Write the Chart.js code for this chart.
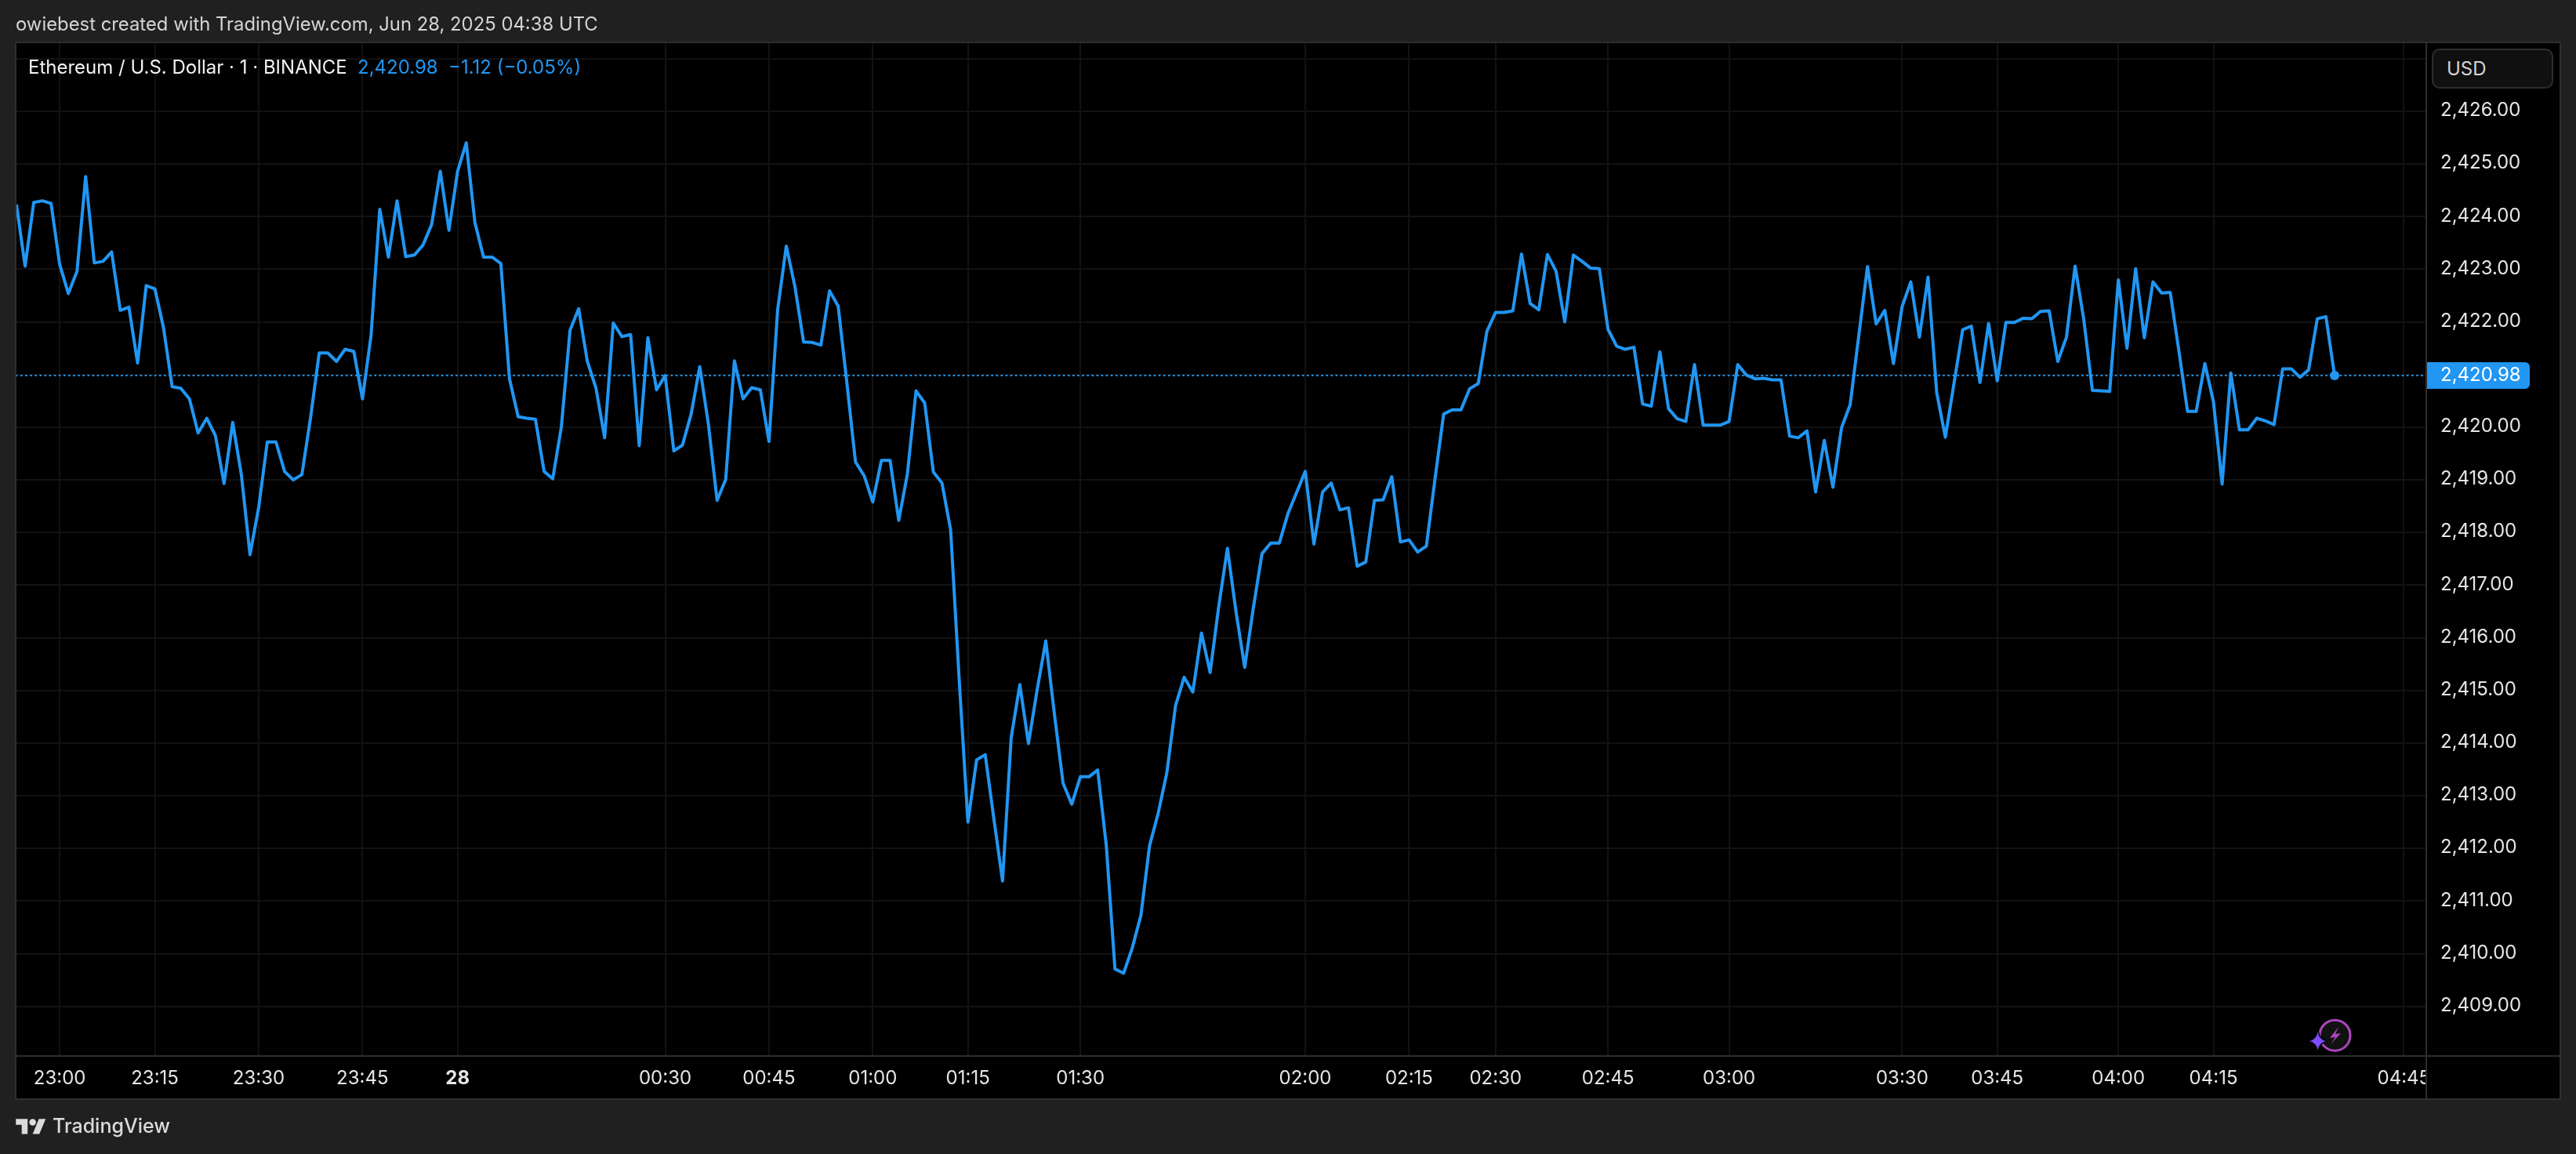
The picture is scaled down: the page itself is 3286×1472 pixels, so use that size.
<!DOCTYPE html>
<html><head><meta charset="utf-8">
<script src="https://cdn.jsdelivr.net/npm/chart.js@4"></script>
<style>
html,body{margin:0;padding:0;background:#202020;width:3286px;height:1472px;overflow:hidden;font-family:Inter,sans-serif}
canvas{position:absolute;left:0;top:0}
.t{position:absolute;white-space:nowrap;line-height:1}
</style></head><body>
<canvas id="c" width="3286" height="1472"></canvas>
<div class="t" style="left:20px;top:19px;font-size:23.85px;color:#d4d4d4">owiebest created with TradingView.com, Jun 28, 2025 04:38 UTC</div>
<div class="t" style="left:36px;top:74px;font-size:24px;color:#f2f2f2">Ethereum / U.S. Dollar · 1 · BINANCE</div>
<div class="t" style="left:456px;top:74px;font-size:24px;color:#2196f3">2,420.98</div>
<div class="t" style="left:572px;top:74px;font-size:24px;color:#2196f3">−1.12 (−0.05%)</div>
<div style="position:absolute;left:3102px;top:62px;width:155px;height:51px;box-sizing:border-box;background:#101010;border:2px solid #2e2e2e;border-radius:10px"></div>
<div class="t" style="left:3121px;top:76px;font-size:24px;color:#d4d4d4">USD</div>
<svg style="position:absolute;left:2936px;top:1296px" width="70" height="50" viewBox="0 0 70 50">
<circle cx="42.5" cy="24.7" r="19.5" fill="#111" stroke="#ab47bc" stroke-width="3"/>
<path d="M47 14 L36 28 L43 27 L37 36 L50 22 L43 23 Z" fill="#ab47bc"/>
<path d="M20.7 20 Q22 30 31 32 Q22 34 20.7 44 Q19 34 10 32 Q19 30 20.7 20 Z" fill="#7c4dff" stroke="#000" stroke-width="3" paint-order="stroke"/>
</svg>
<svg style="position:absolute;left:20px;top:1422.5px" width="39" height="30" viewBox="0 0 36 28"><path fill="#dbdbdb" d="M14 22H7V11H0V4h14v18zM28 22h-8l7.5-18h8L28 22z"/><circle fill="#dbdbdb" cx="20" cy="8" r="4"/></svg>
<div class="t" style="left:67px;top:1424px;font-size:25px;font-weight:500;color:#dbdbdb">TradingView</div>
<script>
const timeLabels = ['23:00','23:15','23:30','23:45','28','00:30','00:45','01:00','01:15','01:30','02:00','02:15','02:30','02:45','03:00','03:30','03:45','04:00','04:15','04:45'];
const timeTickBars = [5,16,28,40,51,75,87,99,110,123,149,161,171,184,198,218,229,243,254,276];
const priceTicks = [2427,2426,2425,2424,2423,2422,2421,2420,2419,2418,2417,2416,2415,2414,2413,2412,2411,2410,2409];
const lastPrice = 2420.98;
const prices = [
2424.23,2423.06,2424.27,2424.30,2424.25,2423.09,2422.54,2422.96,2424.76,2423.12,
2423.15,2423.33,2422.22,2422.28,2421.22,2422.69,2422.63,2421.89,2420.77,2420.74,
2420.54,2419.89,2420.17,2419.84,2418.93,2420.09,2419.10,2417.58,2418.47,2419.72,
2419.72,2419.16,2419.00,2419.10,2420.18,2421.41,2421.41,2421.25,2421.48,2421.44,
2420.54,2421.75,2424.14,2423.23,2424.30,2423.24,2423.27,2423.46,2423.85,2424.86,
2423.74,2424.86,2425.40,2423.89,2423.23,2423.23,2423.11,2420.92,2420.20,2420.17,
2420.15,2419.16,2419.02,2420.01,2421.84,2422.25,2421.25,2420.74,2419.80,2421.98,
2421.72,
2421.76,2419.65,2421.70,2420.71,2420.98,2419.55,2419.66,2420.25,2421.15,2420.05,
2418.61,2419.01,2421.26,2420.54,2420.75,2420.71,2419.73,2422.23,2423.44,2422.67,
2421.62,2421.61,2421.56,2422.59,2422.30,2420.85,2419.34,2419.08,2418.58,2419.37,
2419.37,2418.23,2419.11,2420.69,2420.46,2419.15,2418.94,2418.05,
2415.18,2412.50,2413.68,2413.78,2412.56,2411.38,2414.10,2415.11,2413.99,2415.01,
2415.94,2414.55,2413.24,2412.84,2413.36,2413.36,2413.49,2412.05,2409.71,2409.63,
2410.11,2410.73,2412.05,2412.67,2413.44,2414.71,2415.25,2414.97,2416.09,2415.34,
2416.60,2417.70,2416.49,2415.44,2416.57,2417.60,2417.80,2417.80,2418.36,2418.76,
2419.16,2417.78,2418.77,2418.94,2418.43,2418.47,2417.36,2417.44,2418.61,2418.62,
2419.06,2417.82,2417.86,2417.63,2417.74,
2419.02,2420.25,2420.33,2420.33,2420.73,2420.83,2421.82,2422.18,2422.18,2422.21,
2423.29,2422.35,2422.23,2423.28,2422.96,2422.00,2423.27,2423.15,2423.02,2423.01,
2421.86,2421.54,2421.48,2421.52,2420.44,2420.40,2421.43,2420.35,2420.16,2420.11,
2421.19,2420.04,2420.04,2420.04,2420.11,2421.19,2420.99,2420.92,2420.93,2420.90,
2420.90,2419.83,2419.80,2419.93,2418.77,2419.75,2418.86,2419.99,2420.43,2421.75,
2423.05,2421.96,2422.22,2421.21,2422.29,2422.76,2421.71,2422.85,2420.66,2419.81,
2420.83,2421.85,2421.92,2420.85,2421.97,2420.88,2421.99,2421.99,2422.07,2422.06,
2422.20,2422.21,2421.25,2421.71,2423.06,2422.05,2420.70,2420.69,2420.68,2422.80,
2421.50,2423.01,2421.70,2422.76,2422.55,2422.56,2421.45,2420.30,2420.30,2421.21,
2420.48,2418.92,2421.03,2419.95,2419.95,2420.17,2420.12,2420.05,2421.11,2421.11,
2420.95,2421.09,2422.06,2422.10,2420.98];

const BLUE='#2196f3', FONT='Inter, sans-serif', GRID='#121212', EDGE='#2e2e2e';
const xMin=-0.09, xMax=278.6, yMin=2408.057, yMax=2427.31;
const fmt=v=>v.toLocaleString('en-US',{minimumFractionDigits:2,maximumFractionDigits:2});

const frame={id:'frame',
 beforeDraw(ch){const g=ch.ctx;g.save();g.fillStyle='#000';g.fillRect(20,54,3246,1348);g.restore();},
 afterDraw(ch){const g=ch.ctx,y=ch.scales.y.getPixelForValue(lastPrice),a=ch.chartArea;g.save();
  g.fillStyle='#000';g.fillRect(a.right,a.bottom,170,55);
  g.strokeStyle=EDGE;g.lineWidth=2;
  g.beginPath();
  g.rect(20,54,3246,1348);
  g.moveTo(a.right,54);g.lineTo(a.right,1402);
  g.moveTo(20,a.bottom);g.lineTo(3266,a.bottom);
  g.stroke();
  g.fillStyle=BLUE;g.beginPath();g.roundRect(3096,y-17,131,34,[0,6,6,0]);g.fill();
  g.fillStyle='#fff';g.font='24px '+FONT;g.textAlign='left';g.textBaseline='middle';g.fillText(fmt(lastPrice),3113,y);
  g.restore();}};

new Chart(document.getElementById('c'),{
 type:'line',
 data:{datasets:[
  {data:prices.map((p,i)=>({x:i,y:p})),borderColor:BLUE,borderWidth:4,tension:0,borderJoinStyle:'round',
   pointRadius:c=>c.dataIndex===prices.length-1?6:0,pointBackgroundColor:BLUE,pointBorderWidth:0},
  {data:[{x:xMin,y:lastPrice},{x:xMax,y:lastPrice}],borderColor:BLUE,borderWidth:2,borderDash:[2.5,3.6],pointRadius:0}
 ]},
 options:{responsive:false,devicePixelRatio:1,animation:false,events:[],
  layout:{padding:{left:20,top:54,right:20,bottom:70}},
  plugins:{legend:{display:false},tooltip:{enabled:false}},
  scales:{
   x:{type:'linear',min:xMin,max:xMax,position:'bottom',
    afterBuildTicks:a=>{a.ticks=timeTickBars.map(v=>({value:v}));},
    afterFit:a=>{a.height=55;},
    border:{display:false},
    grid:{color:GRID,lineWidth:2,drawTicks:false},
    ticks:{autoSkip:false,maxRotation:0,padding:14,color:'#e6e6e6',
     callback:v=>timeLabels[timeTickBars.indexOf(v)],
     font:c=>({family:FONT,size:24,weight:c.tick&&c.tick.label==='28'?'700':'400'})}},
   y:{type:'linear',min:yMin,max:yMax,position:'right',
    afterBuildTicks:a=>{a.ticks=priceTicks.map(v=>({value:v}));},
    afterFit:a=>{a.width=171;},
    border:{display:false},
    grid:{color:GRID,lineWidth:2,drawTicks:false},
    ticks:{autoSkip:false,crossAlign:'near',padding:18,labelOffset:-1,color:'#e6e6e6',
     callback:v=>v===priceTicks[0]?'':fmt(v),font:{family:FONT,size:24}}}
  }},
 plugins:[frame]});
</script>
</body></html>
